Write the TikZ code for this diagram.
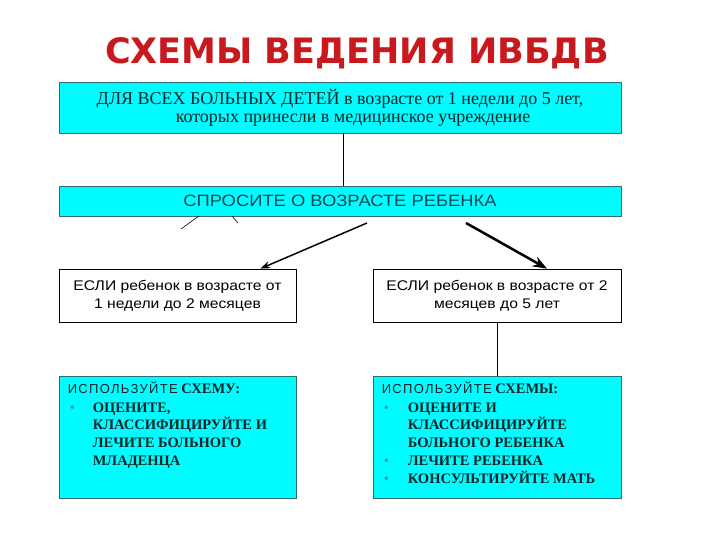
\documentclass[tikz,border=0pt]{standalone}
\usepackage{fontspec}
\setmainfont{Liberation Serif}
\setsansfont[FakeStretch=1.12]{Liberation Sans}
\newfontfamily\titlefont{DejaVu Sans}
\newfontfamily\spacedsans[LetterSpace=10]{Liberation Sans}
\usetikzlibrary{arrows.meta}
\definecolor{boxcyan}{HTML}{00FCFF}
\definecolor{boxedge}{HTML}{2F6F73}
\definecolor{titlered}{HTML}{C81A1E}
\definecolor{tealtext}{HTML}{0E4A50}
\definecolor{darktext}{HTML}{0A2626}
\definecolor{bulletteal}{HTML}{2E9A9E}
\begin{document}
\begin{tikzpicture}[x=1pt, y=-1pt, >=Stealth,
  cyanbox/.style={draw=boxedge, fill=boxcyan, rectangle, line width=0.8pt},
  whitebox/.style={draw=black, fill=white, rectangle, line width=0.8pt},
  plantext/.style={anchor=north west, inner sep=0pt, text=darktext}]
\useasboundingbox (0,0) rectangle (720,540);

\node[font=\titlefont\bfseries\fontsize{35}{38}\selectfont, text=titlered] (title) at (357,53) {СХЕМЫ ВЕДЕНИЯ ИВБДВ};

\node[cyanbox, minimum width=562pt, minimum height=51pt, align=center, text=darktext,
  font=\fontsize{18}{18}\selectfont] (All) at (340,107.5)
  {ДЛЯ ВСЕХ БОЛЬНЫХ ДЕТЕЙ в возрасте от 1 недели до 5 лет,\\
   \hspace*{26pt}которых принесли в медицинское учреждение};
\node[cyanbox, minimum width=562pt, minimum height=30pt, text=tealtext,
  font=\sffamily\fontsize{16.4}{18}\selectfont] (Ask) at (340,201) {СПРОСИТЕ О ВОЗРАСТЕ РЕБЕНКА};

\node[whitebox, minimum width=237pt, minimum height=53pt, align=center,
  font=\sffamily\fontsize{14}{18}\selectfont] (Young) at (177.5,295.5)
  {ЕСЛИ ребенок в возрасте от\\ 1 недели до 2 месяцев};
\node[whitebox, minimum width=248pt, minimum height=53pt, align=center,
  font=\sffamily\fontsize{14}{18}\selectfont] (Old) at (497,295.5)
  {ЕСЛИ ребенок в возрасте от 2\\ месяцев до 5 лет};

\node[cyanbox, minimum width=237pt, minimum height=122pt] (YoungPlan) at (177.5,437) {};
\node[cyanbox, minimum width=248pt, minimum height=122pt] (OldPlan) at (497,437) {};

\node[plantext] (YoungText) at ([shift={(9pt,-5pt)}]YoungPlan.north west)
  {\fontsize{14.5}{17.8}\selectfont
   \begin{tabular}{@{}p{25pt}@{}l@{}}
   \multicolumn{2}{@{}l@{}}{{\spacedsans\fontsize{13}{17.8}\selectfont ИСПОЛЬЗУЙТЕ} \bfseries СХЕМУ:}\\[1pt]
   \hspace*{2pt}\textcolor{bulletteal}{\textbullet} & \bfseries ОЦЕНИТЕ,\\
   & \bfseries КЛАССИФИЦИРУЙТЕ И\\
   & \bfseries ЛЕЧИТЕ БОЛЬНОГО\\
   & \bfseries МЛАДЕНЦА
   \end{tabular}};
\node[plantext] (OldText) at ([shift={(9pt,-5pt)}]OldPlan.north west)
  {\fontsize{14.5}{17.8}\selectfont
   \begin{tabular}{@{}p{26pt}@{}l@{}}
   \multicolumn{2}{@{}l@{}}{{\spacedsans\fontsize{13}{17.8}\selectfont ИСПОЛЬЗУЙТЕ} \bfseries СХЕМЫ:}\\[1pt]
   \hspace*{2pt}\textcolor{bulletteal}{\textbullet} & \bfseries ОЦЕНИТЕ И\\
   & \bfseries КЛАССИФИЦИРУЙТЕ\\
   & \bfseries БОЛЬНОГО РЕБЕНКА\\
   \hspace*{2pt}\textcolor{bulletteal}{\textbullet} & \bfseries ЛЕЧИТЕ РЕБЕНКА\\
   \hspace*{2pt}\textcolor{bulletteal}{\textbullet} & \bfseries КОНСУЛЬТИРУЙТЕ МАТЬ
   \end{tabular}};

\coordinate (fromL) at (367,223);
\coordinate (fromR) at (466,223);
\draw[line width=0.8pt] ([xshift=3pt]All.south) -- ([xshift=3pt]Ask.north);
\draw[->, line width=1.5pt] (fromL) -- ([xshift=83pt]Young.north);
\draw[->, line width=2.5pt] (fromR) -- ([xshift=50pt]Old.north);
\draw[line width=0.8pt] (Old.south) -- (OldPlan.north);
% short strokes under the question box
\draw[line width=0.6pt] (181,229) -- (199,216);
\draw[line width=0.6pt] (232,216) -- (238,223);
\end{tikzpicture}
\end{document}
